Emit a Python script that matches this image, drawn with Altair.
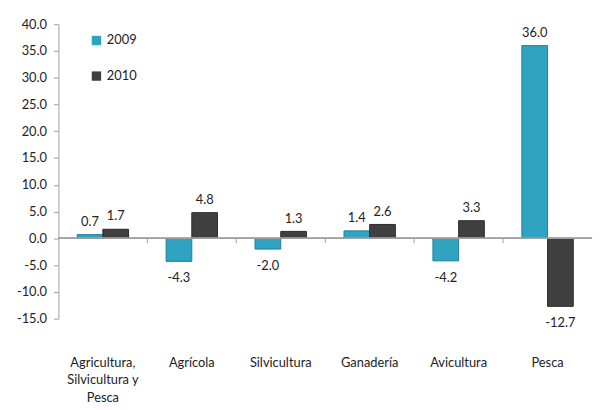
import altair as alt
import pandas as pd

categories = ["Agricultura,|Silvicultura y|Pesca", "Agrícola", "Silvicultura", "Ganadería", "Avicultura", "Pesca"]
years = ["2009", "2010"]
v2009 = [0.7, -4.3, -2.0, 1.4, -4.2, 36.0]
v2010 = [1.7, 4.8, 1.3, 2.6, 3.3, -12.7]
y_ticks = [-15, -10, -5, 0, 5, 10, 15, 20, 25, 30, 35, 40]
colors = ["#2fa3c0", "#404040"]
strokes = ["#1f7f99", "#2a2a2a"]

rows = []
for c, a, b in zip(categories, v2009, v2010):
    rows.append({"cat": c, "year": "2009", "value": a})
    rows.append({"cat": c, "year": "2010", "value": b})
df = pd.DataFrame(rows)
ticks_df = pd.DataFrame({"cat": categories[1:]})

FONT = "Lato"

x_enc = alt.X("cat:N", sort=categories, title=None,
              scale=alt.Scale(paddingInner=0, paddingOuter=0),
              axis=alt.Axis(labelAngle=0, domain=False, ticks=False, labelPadding=38,
                            labelExpr="split(datum.label, '|')", labelLineHeight=18,
                            labelFontSize=13, labelColor="#222", labelFont=FONT,
                            labelLimit=200))
y_enc = alt.Y("value:Q", title=None,
              scale=alt.Scale(domain=[-15, 40], nice=False),
              axis=alt.Axis(values=y_ticks, tickCount=len(y_ticks) + 2, format=".1f", grid=False,
                            labelExpr="replace(datum.label, '\u2212', '-')",
                            labelOverlap=False, labelFlush=False,
                            labelFontSize=13, labelColor="#222", labelFont=FONT,
                            domainColor="#a0a0a0", tickColor="#a0a0a0", tickSize=5,
                            labelPadding=7))
xo = alt.XOffset("year:N", sort=years, scale=alt.Scale(paddingInner=0, paddingOuter=0.73))

bars = alt.Chart(df).mark_bar(strokeWidth=1).encode(
    x=x_enc, y=y_enc, xOffset=xo,
    color=alt.Color("year:N", sort=years, scale=alt.Scale(domain=years, range=colors),
                    legend=alt.Legend(title=None, orient="none", legendX=32, legendY=10,
                                      symbolType="square", symbolSize=90, rowPadding=22,
                                      labelFontSize=13, labelFont=FONT, labelColor="#222",
                                      symbolStrokeWidth=0)),
    stroke=alt.Stroke("year:N", sort=years, scale=alt.Scale(domain=years, range=strokes),
                      legend=None),
)

zero = alt.Chart(df).mark_rule(color="#a0a0a0", strokeWidth=1).encode(y=alt.datum(0))

tick_rules = alt.Chart(ticks_df).mark_rule(color="#a0a0a0").encode(
    x=alt.X("cat:N", sort=categories, bandPosition=0),
    y=alt.datum(0), y2=alt.datum(-0.9))

base_txt = alt.Chart(df).transform_calculate(
    label="replace(format(datum.value, '.1f'), '\u2212', '-')")

pos = base_txt.transform_filter("datum.value >= 0").mark_text(
    baseline="bottom", dy=-6, fontSize=13, font=FONT, color="#222").encode(
    x=alt.X("cat:N", sort=categories), xOffset=xo, y=y_enc,
    text="label:N")
neg = base_txt.transform_filter("datum.value < 0").mark_text(
    baseline="top", dy=11, fontSize=13, font=FONT, color="#222").encode(
    x=alt.X("cat:N", sort=categories), xOffset=xo, y=y_enc,
    text="label:N")

chart = alt.layer(bars, zero, tick_rules, pos, neg).properties(
    width=540, height=298,
    padding={"left": 51, "top": 14, "right": 2, "bottom": 88},
    autosize=alt.AutoSizeParams(type="none"),
).configure_view(stroke=None).configure_axisY(labelOverlap=False)

chart.save("out.html", embed_options={"renderer": "svg", "actions": False})
